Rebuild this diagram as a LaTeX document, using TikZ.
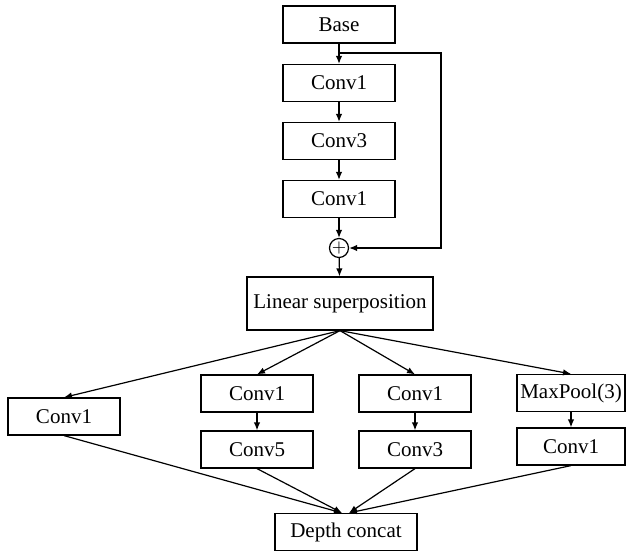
\documentclass[tikz,border=0pt]{standalone}
\usepackage{fontspec}
\setmainfont{Liberation Serif}
\usetikzlibrary{arrows.meta}

\begin{document}
\begin{tikzpicture}[x=0.5pt, y=-0.5pt, line width=0.6pt, >={Latex[length=4pt,width=3.2pt]}]
      \tikzstyle{bnode} = [draw=black, rectangle, minimum width=56pt, minimum height=18.5pt, inner sep=1pt, font=\fontsize{10.5}{12}\selectfont]
      \tikzstyle{lnode} = [bnode, minimum width=93pt, minimum height=26.5pt]
      \tikzstyle{snode} = [draw=black, circle, minimum size=9.5pt, inner sep=0pt]

      \useasboundingbox (0,0) rectangle (626,552);

      %%%%%%%%%%%%%%%%%%%%%%%%%%%%%%
      %% The residual block
      %%%%%%%%%%%%%%%%%%%%%%%%%%%%%%
      \node[bnode] (base) at (339,24.5) {Base};
      \node[bnode] (c1) at (339,83) {Conv1};
      \node[bnode] (c3) at (339,141) {Conv3};
      \node[bnode] (c1b) at (339,199) {Conv1};
      \node[snode] (plus) at (339,248) {\small$+$};
      \node[lnode] (lin) at (340,303.5) {Linear superposition};

      \coordinate (split) at (339,53);
      \coordinate (turn) at (441,248);

      \draw[->] (base) -- (c1);
      \draw[->] (c1) -- (c3);
      \draw[->] (c3) -- (c1b);
      \draw[->] (c1b) -- (plus);
      \draw[->] (split) -| (turn) -- (plus);
      \draw[->] (plus) -- (lin);

      %%%%%%%%%%%%%%%%%%%%%%%%%%%%%%
      %% The four branches
      %%%%%%%%%%%%%%%%%%%%%%%%%%%%%%
      \node[bnode] (b1) at (64,416.5) {Conv1};

      \node[bnode] (b2a) at (257,393.5) {Conv1};
      \node[bnode] (b2b) at (257,449.5) {Conv5};

      \node[bnode] (b3a) at (415,393.5) {Conv1};
      \node[bnode] (b3b) at (415,449.5) {Conv3};

      \node[bnode, minimum width=54pt] (b4a) at (571,393) {MaxPool(3)};
      \node[bnode, minimum width=54pt] (b4b) at (571,446.5) {Conv1};

      \node[bnode, minimum width=71pt] (dc) at (346,532) {Depth concat};

      % edge split to branches
      \draw[->] (lin.south) -- (b1.north);
      \draw[->] (lin.south) -- (b2a.north);
      \draw[->] (lin.south) -- (b3a.north);
      \draw[->] (lin.south) -- (b4a.north);

      \draw[->] (b2a) -- (b2b);
      \draw[->] (b3a) -- (b3b);
      \draw[->] (b4a) -- (b4b);

      % edge branches to concat
      \draw[->] (b1.south) -- ([xshift=-2pt]dc.north);
      \draw[->] (b2b.south) -- ([xshift=-2pt]dc.north);
      \draw[->] (b3b.south) -- ([xshift=1.5pt]dc.north);
      \draw[->] (b4b.south) -- ([xshift=1.5pt]dc.north);

    \end{tikzpicture}
\end{document}
